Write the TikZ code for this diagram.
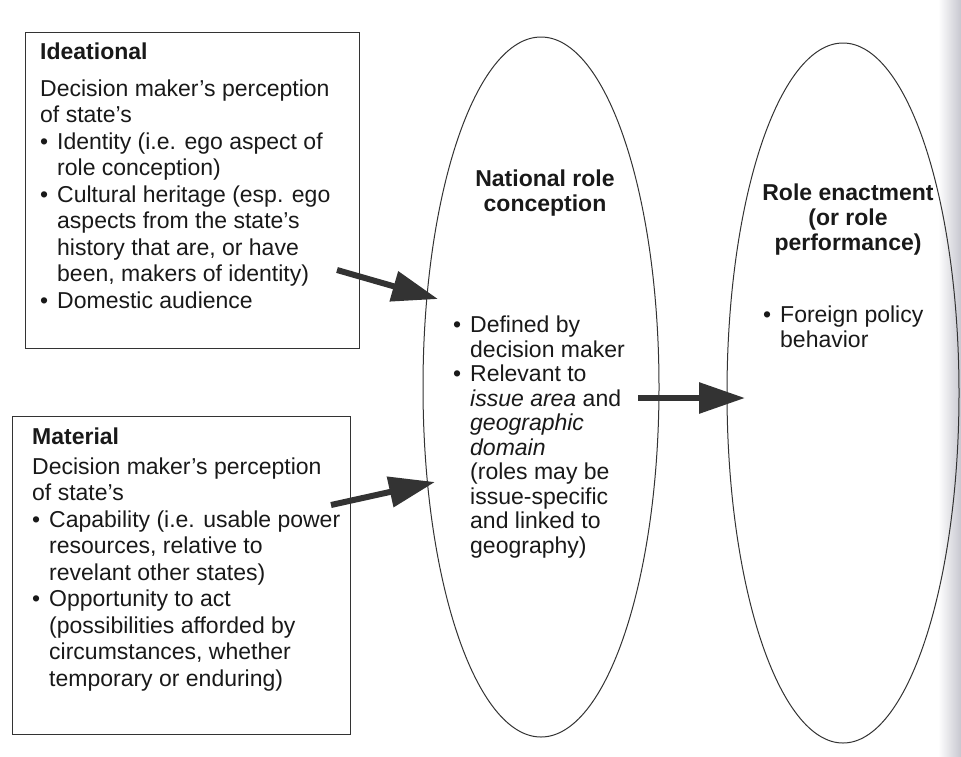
\documentclass[tikz,border=0pt]{standalone}
\usepackage{fontspec}
\setmainfont{Liberation Sans}
\usetikzlibrary{arrows.meta,shapes.geometric}

\tikzset{
  box/.style={draw=black!80, line width=1.3pt, anchor=north west, inner sep=0pt},
  txt/.style={anchor=north west, inner sep=0pt, align=left, text=black!90,
    font=\fontsize{23}{26.5}\selectfont},
  oval/.style={draw=black!80, line width=1pt, ellipse, inner sep=0pt, minimum height=700pt},
  head/.style={align=center, inner sep=0pt, text=black!90,
    font=\fontsize{23}{25}\selectfont\bfseries},
  flow/.style={line width=6pt, draw=black!80, -{Triangle[length=46pt,width=30pt]}}
}
\newcommand{\bul}{\makebox[17pt][l]{\textbullet}}
\newcommand{\ind}{\hspace*{17pt}}

\begin{document}
\begin{tikzpicture}[x=1pt,y=-1pt]
    \useasboundingbox (0,0) rectangle (961,756);
    % page shadow at the right edge
    \shade[left color=white, right color=blue!15!black!22] (938,0) rectangle (961,756);

    % the two boxes
    \node[box, minimum width=334pt, minimum height=316pt] (ideational) at (25,32) {};
    \node[box, minimum width=338pt, minimum height=318pt] (material) at (12,416) {};

    \node[txt] (idtext) at (40,43) {\textbf{Ideational}\\[10pt]
      Decision maker's perception\\
      of state's\\
      \bul Identity (i.e. ego aspect of\\
      \ind role conception)\\
      \bul Cultural heritage (esp. ego\\
      \ind aspects from the state's\\
      \ind history that are, or have\\
      \ind been, makers of identity)\\
      \bul Domestic audience};

    \node[txt] (mattext) at (32,428) {\textbf{Material}\\[3pt]
      Decision maker's perception\\
      of state's\\
      \bul Capability (i.e. usable power\\
      \ind resources, relative to\\
      \ind revelant other states)\\
      \bul Opportunity to act\\
      \ind (possibilities afforded by\\
      \ind circumstances, whether\\
      \ind temporary or enduring)};

    % the two ellipses
    \node[oval, minimum width=236pt] (natrole) at (541,387) {};
    \node[oval, minimum width=232pt] (enact) at (843,393) {};

    \node[head] (nattitle) at (545,193) {National role\\conception};
    \node[txt, font=\fontsize{23}{24.5}\selectfont] (natlist) at (453,316) {\bul Defined by\\
      \ind decision maker\\
      \bul Relevant to\\
      \ind \textit{issue area} and\\
      \ind \textit{geographic}\\
      \ind \textit{domain}\\
      \ind (roles may be\\
      \ind issue-specific\\
      \ind and linked to\\
      \ind geography)};

    \node[head] (enacttitle) at (848,220) {Role enactment\\(or role\\performance)};
    \node[txt, font=\fontsize{23}{24.5}\selectfont] (enactlist) at (763,306) {\bul Foreign policy\\
      \ind behavior};

    % arrows
    \coordinate (s1) at (337,270);
    \coordinate (t1) at (438,299);
    \coordinate (s2) at (331,505);
    \coordinate (t2) at (435,482);
    \coordinate (s3) at (638,398);
    \coordinate (t3) at (745,398);
    \draw[flow] (s1) -- (t1);
    \draw[flow] (s2) -- (t2);
    \draw[flow] (s3) -- (t3);
\end{tikzpicture}
\end{document}
